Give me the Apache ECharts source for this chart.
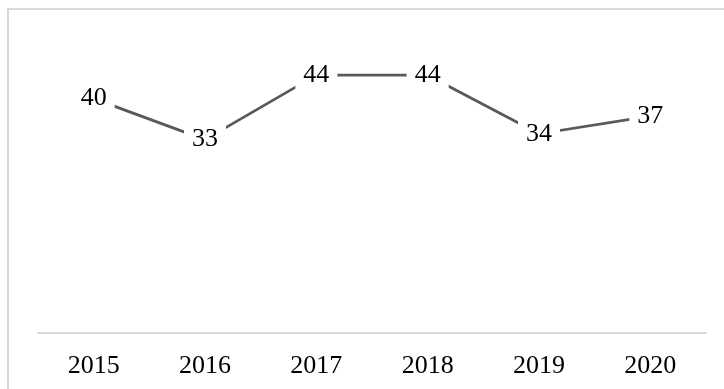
<!DOCTYPE html>
<html>
<head>
<meta charset="utf-8">
<script src="https://cdn.jsdelivr.net/npm/echarts@6/dist/echarts.min.js"></script>
<style>html,body{margin:0;padding:0;background:#fff}#c{width:724px;height:389px}</style>
</head>
<body>
<div id="c"></div>
<script>
var categories = ['2015', '2016', '2017', '2018', '2019', '2020'];
var values = [40, 33, 44, 44, 34, 37];

var chart = echarts.init(document.getElementById('c'));
var font = '"Liberation Serif", "Times New Roman", serif';
chart.setOption({
  animation: false,
  backgroundColor: '#ffffff',
  graphic: [{
    type: 'rect',
    shape: { x: 8, y: 9, width: 900, height: 600 },
    style: { fill: 'none', stroke: '#d9d9d9', lineWidth: 2 },
    silent: true
  }],
  grid: { left: 38, right: 18, top: 40, bottom: 56 },
  xAxis: {
    type: 'category',
    data: categories,
    boundaryGap: true,
    axisLine: { show: true, lineStyle: { color: '#d9d9d9', width: 2 } },
    axisTick: { show: false },
    axisLabel: { color: '#000', fontFamily: font, fontSize: 26, margin: 20 }
  },
  yAxis: {
    type: 'value',
    min: 0,
    max: 50,
    show: false,
    splitLine: { show: false }
  },
  series: [{
    type: 'line',
    data: values,
    symbol: 'circle',
    symbolSize: 1,
    showSymbol: true,
    itemStyle: { color: '#ffffff' },
    lineStyle: { color: '#595959', width: 2.75 },
    label: {
      show: true,
      position: 'inside',
      color: '#000',
      fontFamily: font,
      fontSize: 26,
      backgroundColor: '#ffffff',
      padding: [2, 8, 2, 8]
    }
  }]
});
</script>
</body>
</html>
